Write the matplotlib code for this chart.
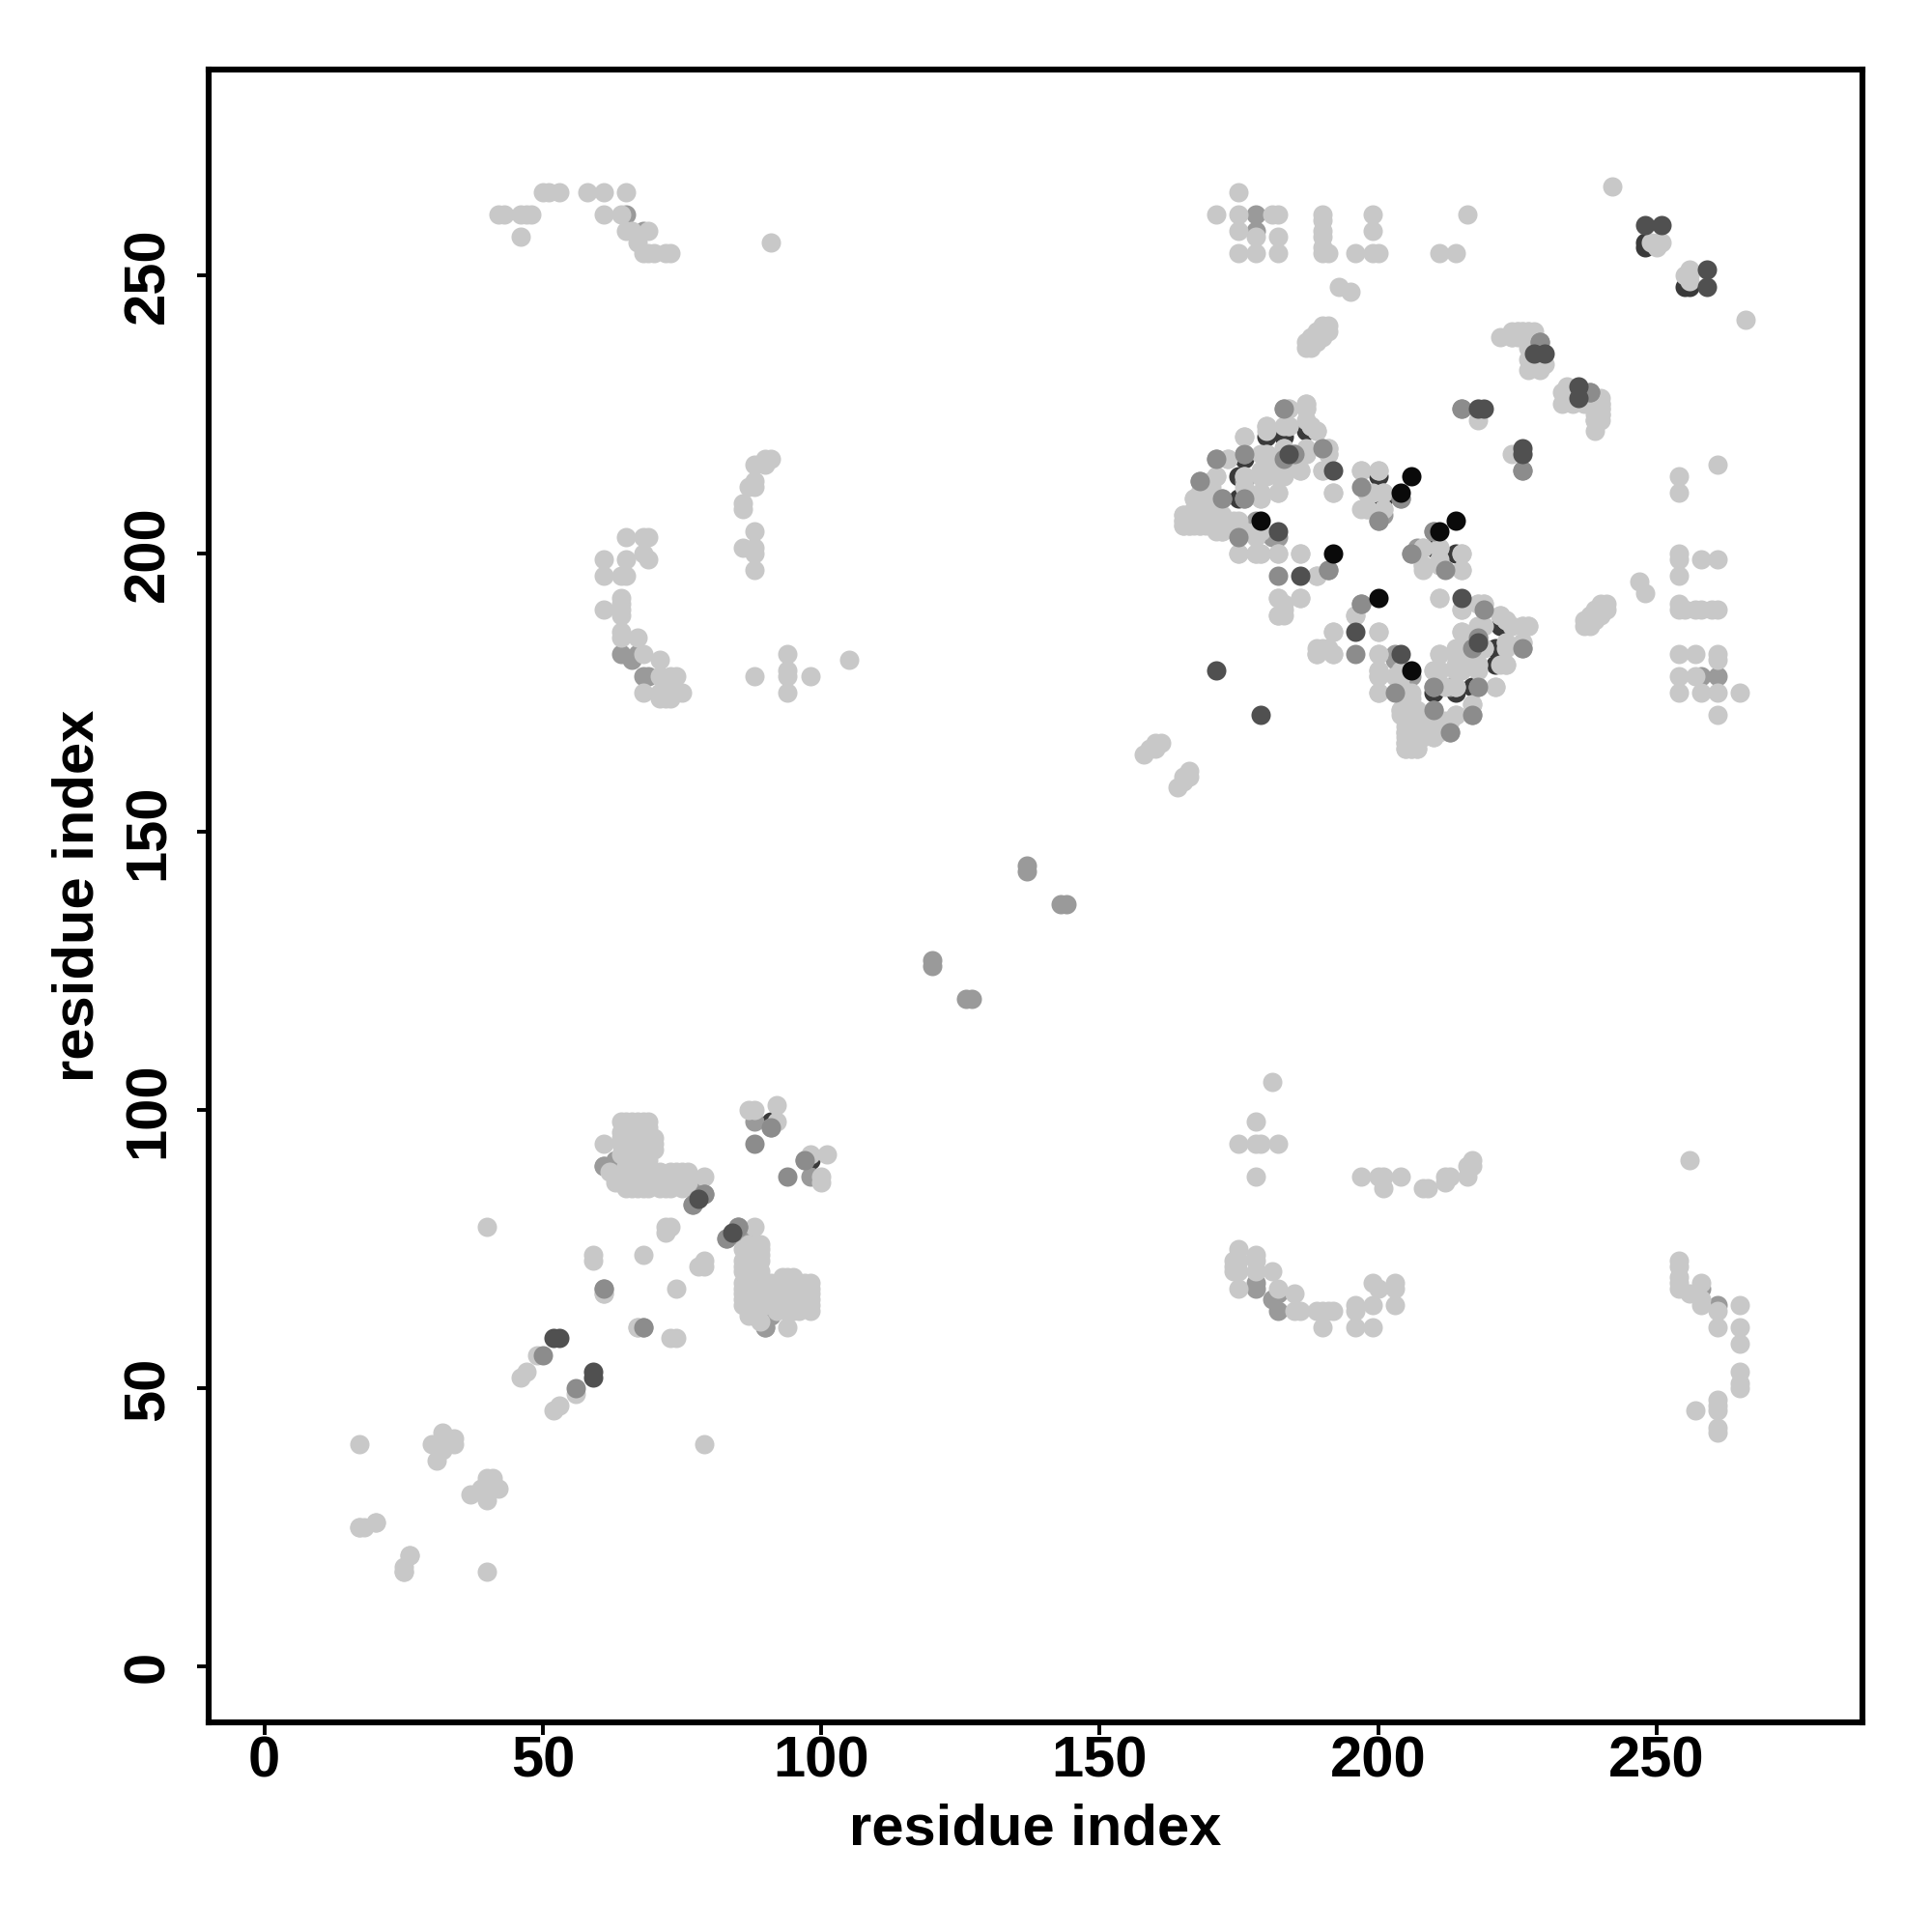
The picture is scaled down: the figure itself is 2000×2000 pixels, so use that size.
import matplotlib
matplotlib.use("Agg")
import matplotlib.pyplot as plt

plt.rcParams['font.family'] = ['Liberation Sans', 'DejaVu Sans']

# Contacts (i, j) with i < j; the map shows each contact at (i, j) and (j, i).
# Groups are listed by shade, in drawing order.
under_dark = [(176,217),(180,217),(180,221),(183,221),(187,222),(175,214),(175,210),(201,210),(200,214),
              (63,88),(65,88),(91,98),(248,256),(248,255)]
under_gray = [(176,213),(176,210),(178,206),(204,210),(182,203),(200,206),(201,207),(180,218),(190,219),
              (185,218),(168,213),(63,91),(68,92),(70,88),(61,90),(77,83),(77,86),(91,97),(88,98),(90,61),
              (65,261),(178,258),(178,261),(64,182),(67,182),(68,178),(69,178),(66,181),
              (68,258),(137,143),(137,144),(61,68),(176,218),(183,226),(171,217),(172,210),(181,203),
              (120,126),(120,127)]
light = [(17,25),(18,25),(20,26),(25,17),(26,20),(17,40),(40,79),(30,40),(31,37),(32,42),(32,39),(34,41),(34,40),(32,40),
         (33,40),(33,41),(46,52),(47,53),(49,56),(61,67),(59,73),(59,74),(68,74),(67,61),(72,79),(73,79),(72,78),
         (79,88),(61,94),(62,89),(63,87),(65,86),(87,100),(88,100),(92,98),(92,101),
         (65,98),(66,98),(67,98),(68,98),(69,98),(65,97),(66,97),(67,97),(68,97),(69,97),
         (64,96),(65,96),(66,96),(67,96),(68,96),(69,96),(64,95),(65,95),(66,95),(67,95),(68,95),(69,95),
         (64,94),(65,94),(66,94),(67,94),(68,94),(70,94),(65,93),(66,93),(67,93),(69,93),(65,92),(66,92),(67,92),(70,93),
         (65,91),(66,91),(67,91),(68,91),(69,91),(65,90),(66,90),(67,90),(65,89),(66,89),(67,89),(68,89),(66,88),(67,88),(68,88),
         (66,87),(67,87),(68,87),(69,87),(66,86),(67,86),(68,86),(69,86),
         (71,87),(71,86),(72,86),(72,87),(72,88),(73,86),(73,87),(73,88),(73,89),(74,87),(74,88),(74,89),(75,86),(75,87),(75,88),(75,89),(76,87),(76,88),(76,89),
         (64,98),(64,92),(70,95),(71,88),(71,89),
         (42,261),(43,261),(46,261),(47,261),(46,257),(48,261),(50,265),(51,265),(53,265),(58,265),(61,265),(61,261),(65,265),
         (64,261),(65,258),(66,258),(69,258),(68,254),(69,254),(70,254),(72,254),(73,254),(67,256),(91,256),
         (171,261),(175,265),(175,261),(175,258),(175,254),(178,257),(178,254),(181,261),(182,261),(182,257),(182,254),
         (190,261),(190,260),(190,257),(190,258),(190,255),(190,254),(191,254),(196,254),(199,261),(199,258),(199,254),(200,254),(211,254),(214,254),(216,261),
         (61,199),(61,196),(64,196),(65,196),(65,199),(65,203),(68,203),(69,203),(68,200),(69,199),(61,190),(64,192),(64,191),(64,190),(64,189),(64,186),(64,185),
         (67,185),(68,182),(71,181),(68,175),(71,178),(71,175),(72,174),(71,174),(73,178),(74,178),(73,174),(75,175),(73,175),
         (91,217),(90,217),(90,216),(88,216),(88,213),(87,212),(88,212),(86,209),(86,208),(86,201),(88,201),(88,204),(88,200),(88,197),(88,178),
         (94,182),(94,179),(94,178),(94,175),(98,178),(105,181),
         (187,237),(188,238),(189,238),(190,239),(191,240),(191,241),(188,239),(189,240),(190,240),(187,238),(188,237),(189,239),(190,241),
         (193,248),(195,247),(242,266),(250,255),(249,256),(250,256),(251,256),
         (158,164),(159,165),(160,165),(160,166),(161,166),
         (222,239),(224,240),(225,240),(226,240),(227,240),(228,240),(226,239),(227,238),(228,238),(228,237),(229,236),(228,234),(229,233),(229,235),
         (224,239),(225,239),(230,234),(227,239),(233,227),(234,228),(235,227),(237,227),(238,228),(239,226),(239,224),(240,226),(240,225),(239,227),(240,227),(236,228),
         (218,224),(218,226),
         (184,226),(187,227),(187,226),(180,223),(183,223),(184,223),(187,224),(188,223),(189,222),(176,221),(173,217),(179,218),(183,219),(187,219),(187,218),(191,219),(191,218),
         (170,213),(171,214),(176,214),(179,214),(180,214),(183,215),(183,214),(186,215),(190,215),(200,215),(198,211),(201,211),(197,208),(198,208),(201,208),(192,211),
         (167,210),(170,210),(179,210),(179,211),(182,211),(170,212),(169,210),
         (165,207),(166,207),(167,207),(168,207),(169,207),(170,207),(171,207),(172,207),
         (165,205),(166,205),(167,205),(168,205),(169,205),(170,205),(171,205),(172,205),(171,204),(172,204),
         (165,206),(166,206),(168,206),(170,206),
         (175,206),(175,205),(176,204),(179,204),(178,204),(175,200),(178,200),(179,200),(182,200),(186,200),
         (189,196),(182,192),(183,191),(186,192),(182,189),(183,189),(196,189),(192,186),(200,186),(189,182),(190,183),(192,182),(200,182),
         (200,179),(200,178),(203,178),(200,175),(205,175),(204,172),(205,172),(205,173),(206,172),(205,174),(206,174),
         (205,168),(206,168),(205,166),(207,166),(207,165),(205,165),(206,167),(208,167),(210,167),(211,168),(206,165),(206,170),(205,170),
         (210,170),(213,170),(214,171),(217,173),(210,179),(211,179),(211,182),(214,182),(214,176),(212,176),(221,176),(214,179),(215,179),
         (218,180),(215,183),(215,186),(218,187),(219,183),(215,190),(218,191),(219,191),(222,189),(223,188),(226,187),(227,187),(226,184),(223,184),(223,180),(222,180),(211,192),
         (208,201),(207,200),(211,201),(211,199),(215,200),(208,198),(211,198),(215,197),(197,215),(216,185),(217,181),(216,181)]
mid_top = [(197,212),(191,197),(182,196),(197,191),(210,176),(210,172),(213,168),(217,171),(218,176),(203,175),(206,200),(210,204),(217,183),(218,185),
           (226,183),(219,190),(226,215),(229,238),(238,229),(215,226),(88,94),(68,61),(85,79),(79,85),(83,77),(50,56),(97,91)]
dark_top = [(184,218),(192,215),(182,204),(186,196),(171,179),(218,226),(219,226),
            (248,259),(251,259),(230,236),(228,236),(52,59),(53,59),(78,84)]
black_top = [(192,200),(206,214),(204,211),(206,179)]

dark_under_grey = '#3a3a3a'
under_gray_grey = '#9a9a9a'
light_grey = '#c8c8c8'
mid_top_grey = '#8c8c8c'
dark_top_grey = '#505050'
black_top_grey = '#0a0a0a'

layers = [(under_dark, dark_under_grey), (under_gray, under_gray_grey), (light, light_grey),
          (mid_top, mid_top_grey), (dark_top, dark_top_grey), (black_top, black_top_grey)]

x_ticks = [0, 50, 100, 150, 200, 250]
y_ticks = [0, 50, 100, 150, 200, 250]
x_label = 'residue index'
y_label = 'residue index'

fig = plt.figure(figsize=(10, 10), dpi=200)
ax = fig.add_axes([216/2000, 1-1783/2000, (1928-216)/2000, (1783-72)/2000])
for pairs, colour in layers:
    xs = [p[0] for p in pairs] + [p[1] for p in pairs]
    ys = [p[1] for p in pairs] + [p[0] for p in pairs]
    ax.scatter(xs, ys, s=52, c=colour, linewidths=0, zorder=3)

ax.set_xlim(-10, 287)
ax.set_ylim(-10, 287)
ax.set_xticks(x_ticks)
ax.set_yticks(y_ticks)
ax.tick_params(axis='x', length=4.5, width=1.4, labelsize=21.5, pad=0.3)
ax.tick_params(axis='y', length=4.5, width=1.4, labelsize=21.5, pad=8)
for lab in ax.get_xticklabels() + ax.get_yticklabels():
    lab.set_fontweight('bold')
for lab in ax.get_yticklabels():
    lab.set_rotation(90)
    lab.set_va('center')
for s in ax.spines.values():
    s.set_linewidth(2.2)
ax.set_xlabel(x_label, fontsize=21.5, fontweight='bold', labelpad=5.5)
ax.set_ylabel(y_label, fontsize=21.5, fontweight='bold', labelpad=6.5)
fig.savefig('out.png', dpi=200)
